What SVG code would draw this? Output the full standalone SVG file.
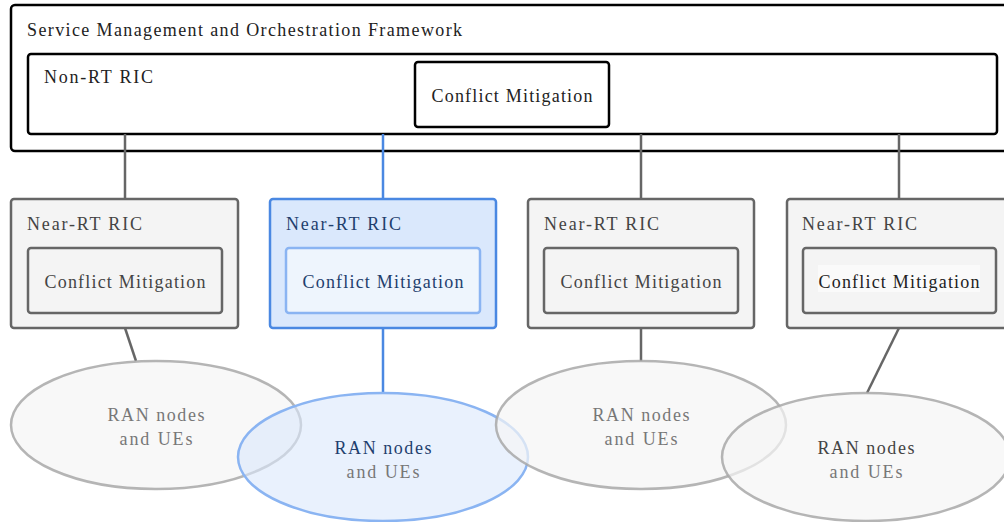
<svg xmlns="http://www.w3.org/2000/svg" width="1004" height="522" viewBox="0 0 1004 522" font-family="'Liberation Serif', 'DejaVu Serif', serif" font-size="18">
  <style>
    .frame { fill: #ffffff; stroke: #000000; stroke-width: 2.5; }
    .gbox { fill: #f4f4f4; stroke: #666666; stroke-width: 2.5; }
    .bbox { fill: #dae8fc; stroke: #4a88e2; stroke-width: 2.5; }
    .binner { fill: #eef5fd; stroke: #8ab4f2; stroke-width: 2.5; }
    .gell { fill: #f5f5f5; fill-opacity: 0.7; stroke: #a8a8a8; stroke-opacity: 0.85; stroke-width: 2.5; }
    .bell { fill: #dae8fc; fill-opacity: 0.6; stroke: #8ab4f2; stroke-width: 2.5; }
    .gline { stroke: #666666; stroke-width: 2.5; fill: none; }
    .bline { stroke: #4a88e2; stroke-width: 2.5; fill: none; }
    .dark { fill: #222222; }
    .grey { fill: #444444; }
    .blue { fill: #1f3f6e; }
    .faint { fill: #777777; }
    .mid { text-anchor: middle; }
  </style>

  <!-- SMO framework -->
  <g id="smo">
    <rect class="frame" x="11" y="5" width="1010" height="146" rx="4"/>
    <text class="dark" x="27" y="36" textLength="435" lengthAdjust="spacing">Service Management and Orchestration Framework</text>
  </g>

  <!-- Non-RT RIC -->
  <g id="non-rt-ric">
    <rect class="frame" x="28" y="54" width="969" height="80" rx="3"/>
    <text class="dark" x="44" y="83" textLength="109" lengthAdjust="spacing">Non-RT RIC</text>
  </g>
  <g id="non-rt-cm">
    <rect class="frame" x="415" y="62" width="194" height="65" rx="3"/>
    <text class="dark mid" x="512" y="102" textLength="161" lengthAdjust="spacing">Conflict Mitigation</text>
  </g>

  <!-- Connectors -->
  <g id="connectors">
    <line class="gline" x1="125" y1="134" x2="125" y2="199"/>
    <line class="bline" x1="383" y1="134" x2="383" y2="199"/>
    <line class="gline" x1="641" y1="134" x2="641" y2="199"/>
    <line class="gline" x1="899" y1="134" x2="899" y2="199"/>
    <line class="gline" x1="125" y1="328" x2="136" y2="361"/>
    <line class="bline" x1="383" y1="328" x2="383" y2="393"/>
    <line class="gline" x1="641" y1="328" x2="641" y2="361"/>
    <line class="gline" x1="899" y1="328" x2="867" y2="393"/>
  </g>

  <!-- Near-RT RICs -->
  <g id="near-rt-1">
    <rect class="gbox" x="11" y="199" width="227" height="129" rx="3"/>
    <text class="grey" x="27" y="230" textLength="115" lengthAdjust="spacing">Near-RT RIC</text>
    <rect class="gbox" x="28" y="248" width="194" height="65" rx="3"/>
    <text class="grey mid" x="125" y="288" textLength="161" lengthAdjust="spacing">Conflict Mitigation</text>
  </g>
  <g id="near-rt-2">
    <rect class="bbox" x="270" y="199" width="226" height="129" rx="3"/>
    <text class="blue" x="286" y="230" textLength="115" lengthAdjust="spacing">Near-RT RIC</text>
    <rect class="binner" x="286" y="248" width="194" height="65" rx="3"/>
    <text class="blue mid" x="383" y="288" textLength="161" lengthAdjust="spacing">Conflict Mitigation</text>
  </g>
  <g id="near-rt-3">
    <rect class="gbox" x="528" y="199" width="226" height="129" rx="3"/>
    <text class="grey" x="544" y="230" textLength="115" lengthAdjust="spacing">Near-RT RIC</text>
    <rect class="gbox" x="544" y="248" width="194" height="65" rx="3"/>
    <text class="grey mid" x="641" y="288" textLength="161" lengthAdjust="spacing">Conflict Mitigation</text>
  </g>
  <g id="near-rt-4">
    <rect class="gbox" x="787" y="199" width="230" height="129" rx="3"/>
    <text class="grey" x="802" y="230" textLength="115" lengthAdjust="spacing">Near-RT RIC</text>
    <rect class="gbox" x="803" y="248" width="193" height="65" rx="3"/>
    <rect x="818" y="265" width="162" height="27" fill="#fafafa"/>
    <text class="dark mid" x="899" y="288" textLength="161" lengthAdjust="spacing">Conflict Mitigation</text>
  </g>

  <!-- RAN domains -->
  <g id="ran-1">
    <ellipse class="gell" cx="156" cy="425" rx="145" ry="64"/>
    <text class="faint mid" x="156" y="421" textLength="97" lengthAdjust="spacing">RAN nodes</text>
    <text class="faint mid" x="156" y="445" textLength="73" lengthAdjust="spacing">and UEs</text>
  </g>
  <g id="ran-2">
    <ellipse class="bell" cx="383" cy="457" rx="145" ry="64"/>
    <text class="blue mid" x="383" y="454" textLength="97" lengthAdjust="spacing">RAN nodes</text>
    <text class="faint mid" x="383" y="478" textLength="73" lengthAdjust="spacing">and UEs</text>
  </g>
  <g id="ran-3">
    <ellipse class="gell" cx="641" cy="425" rx="145" ry="64"/>
    <text class="faint mid" x="641" y="421" textLength="97" lengthAdjust="spacing">RAN nodes</text>
    <text class="faint mid" x="641" y="445" textLength="73" lengthAdjust="spacing">and UEs</text>
  </g>
  <g id="ran-4">
    <ellipse class="gell" cx="866" cy="457" rx="144" ry="64"/>
    <text class="grey mid" x="866" y="454" textLength="97" lengthAdjust="spacing">RAN nodes</text>
    <text class="faint mid" x="866" y="478" textLength="73" lengthAdjust="spacing">and UEs</text>
  </g>
</svg>
